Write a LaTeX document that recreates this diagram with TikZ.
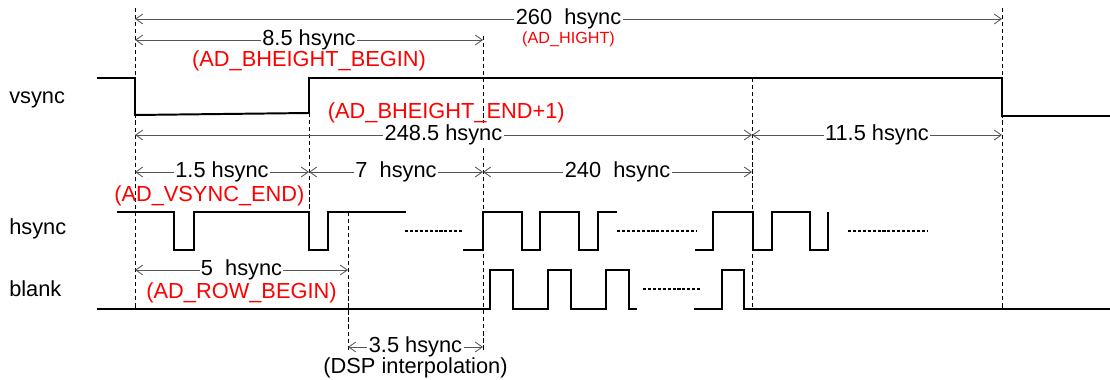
\documentclass[tikz,border=0pt]{standalone}
\usepackage{fontspec}
\setmainfont{Liberation Sans}
\usetikzlibrary{arrows.meta, positioning}
\definecolor{dimline}{RGB}{85,85,85}
\definecolor{hilight}{RGB}{255,0,0}

\begin{document}
\begin{tikzpicture}[x=0.025cm, y=-0.025cm, node distance=0pt, font=\fontsize{15.5}{18}\selectfont]
\tikzstyle{signal} = [draw, line width=1.4pt, line join=miter]
\tikzstyle{guide} = [draw, line width=0.6pt, dash pattern=on 3pt off 2pt]
\tikzstyle{dotrun} = [draw, line width=1.8pt, dash pattern=on 2.2pt off 1.3pt]
\tikzstyle{dim} = [draw=dimline, line width=0.6pt,
    {Straight Barb[length=5pt,width=7pt]}-{Straight Barb[length=5pt,width=7pt]}]
\tikzstyle{val} = [fill=white, inner sep=1pt]
\tikzstyle{note} = [text=hilight, inner sep=0pt]
\tikzstyle{siglabel} = [anchor=west, inner sep=0pt]
    \useasboundingbox (0,0) rectangle (1110,380);

    % time marks and rows
    \coordinate (t0) at (135,8);
    \coordinate (t1) at (309,113);
    \coordinate (t2) at (348,212);
    \coordinate (t3) at (483,36);
    \coordinate (t4) at (752,78);
    \coordinate (t5) at (1002,8);
    \coordinate (r1) at (0,19);
    \coordinate (r2) at (0,40);
    \coordinate (r3) at (0,135);
    \coordinate (r4) at (0,172);
    \coordinate (r5) at (0,270);
    \coordinate (r6) at (0,347);
    \coordinate (lo) at (0,310);
    \coordinate (hs) at (0,212);
    \coordinate (bot) at (0,351);

    % Place nodes
    \node [siglabel] (vsync) at (9,100) {vsync};
    \node [siglabel] (hsync) at (9,229) {hsync};
    \node [siglabel] (blank) at (9,289) {blank};

%guides
    \path [guide] (t0) -- (t0 |- lo);
    \path [guide] (t1) -- (t1 |- hs);
    \path [guide] (t2) -- (t2 |- bot);
    \path [guide] (t3) -- (t3 |- bot);
    \path [guide] (t4) -- (t4 |- lo);
    \path [guide] (t5) -- (t5 |- lo);

%signals
    \path [signal] (97,78) -| (135,115) -- (309,113) |- (1002,78) |- (1110,116);
    \path [signal] (117,212) -| (174,250) -| (194,212) -| (309,250) -| (328,212) -- (406,212);
    \path [signal] (463,250) -| (483,212) -| (522,250) -| (540,212) -| (579,250) -| (598,212) -- (617,212);
    \path [signal] (695,250) -| (713,212) -| (753,250) -| (772,212) -| (810,250) -| (828,212);
    \path [signal] (97,309) -| (490,270) -| (513,309) -| (548,270) -| (571,309) -| (606,270) -| (629,309) -- (637,309);
    \path [signal] (694,309) -| (722,270) -| (744,309) -- (1110,309);
    \path [dotrun] (405,231) -- (462,231);
    \path [dotrun] (617,231) -- (697,231);
    \path [dotrun] (848,231) -- (927,231);
    \path [dotrun] (643,289) -- (700,289);

%dimensions
    \path [dim] (t0 |- r1) -- node [val] (l260) {260~~hsync} (t5 |- r1);
    \path [dim] (t0 |- r2) -- node [val] (l85) {8.5 hsync} (t3 |- r2);
    \path [dim] (t0 |- r3) -- node [val] (l2485) {248.5 hsync} (t4 |- r3);
    \path [dim] (t4 |- r3) -- node [val] (l115) {11.5 hsync} (t5 |- r3);
    \path [dim] (t0 |- r4) -- node [val] (l15) {1.5 hsync} (t1 |- r4);
    \path [dim] (t1 |- r4) -- node [val] (l7) {7~~hsync} (t3 |- r4);
    \path [dim] (t3 |- r4) -- node [val] (l240) {240~~hsync} (t4 |- r4);
    \path [dim] (t0 |- r5) -- node [val] (l5) {5~~hsync} (t2 |- r5);
    \path [dim] (t2 |- r6) -- node [val] (l35) {3.5 hsync} (t3 |- r6);

%notes
    \node [note, below=0.5pt of l260, font=\fontsize{11.5}{13}\selectfont] (hight) {(AD\_HIGHT)};
    \node [note, below=-1pt of l85] (bbegin) {(AD\_BHEIGHT\_BEGIN)};
    \node [note, above=-0.5pt of l2485, xshift=2pt] (bend) {(AD\_BHEIGHT\_END+1)};
    \node [note, below=1pt of l15, xshift=-9pt] (vend) {(AD\_VSYNC\_END)};
    \node [note, below=0pt of l5] (rbegin) {(AD\_ROW\_BEGIN)};
    \node [inner sep=0pt, below=-1pt of l35] (dsp) {(DSP interpolation)};
\end{tikzpicture}
\end{document}
